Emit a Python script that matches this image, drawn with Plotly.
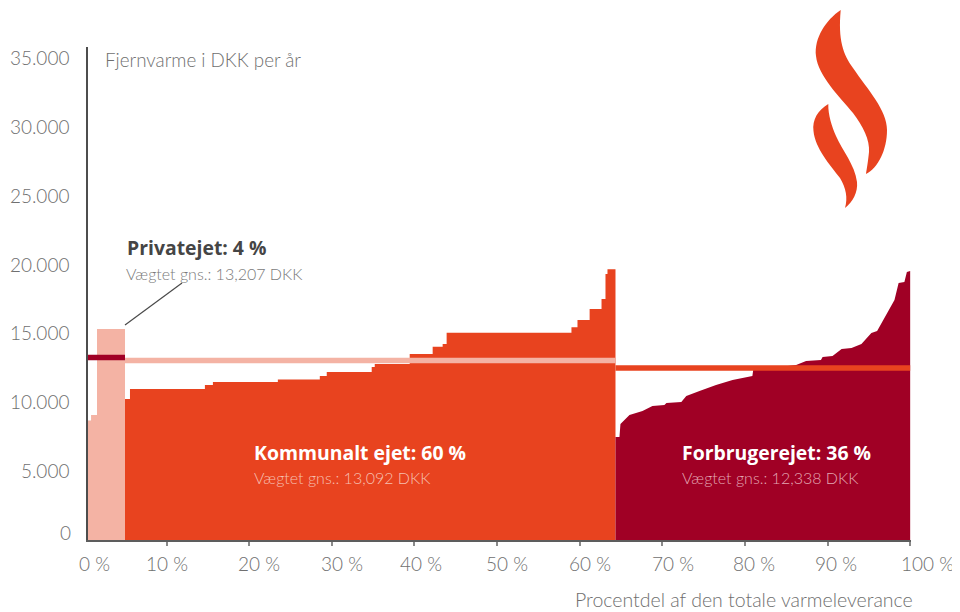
import plotly.graph_objects as go

# the page body keeps its 8 px margin, so the figure is 8 px smaller than the window
BODY_MARGIN = 8
WIDTH, HEIGHT = 960, 612
LEFT, RIGHT, TOP, BOTTOM = 88, 911, 47, 540

# andel af varmeleverance (%) / DKK per aar
private_x = [0.48, 0.85, 1.57, 4.96]
private_y = [8700, 9100, 15350, 15350]

municipal_x = [4.96, 5.56, 14.63, 15.6, 23.46, 28.54, 29.38, 34.82, 35.19, 39.42,
               42.2, 43.41, 43.89, 59.0, 59.73, 61.2, 62.64, 63.12, 63.36, 64.33]
municipal_y = [10250, 10980, 11270, 11490, 11670, 11930, 12220, 12580, 12800, 13530,
               14060, 14250, 15080, 15470, 16000, 16800, 17530, 19350, 19700, 19700]

consumer_x = [64.33, 64.81, 64.93, 66.02, 67.6, 68.8, 70.25, 70.5, 72.3, 72.9, 74.5, 76.5,
              78.5, 80.9, 81.0, 86.2, 87.4, 89.2, 89.4, 90.6, 91.7, 92.9, 94.1, 95.3,
              96.0, 97.1, 98.1, 98.6, 99.3, 99.6, 100.0]
consumer_y = [7490, 7490, 8440, 9090, 9380, 9750, 9820, 9960, 10040, 10470, 10840, 11270,
              11640, 11930, 12360, 12730, 13020, 13090, 13310, 13380, 13890, 13960, 14250, 15050,
              15200, 16360, 17450, 18690, 18760, 19490, 19560]

private_avg_x = [0.12, 4.96]
private_avg_y = [13280, 13280]
municipal_avg_x = [4.96, 64.33]
municipal_avg_y = [13050, 13050]
consumer_avg_x = [64.33, 100.0]
consumer_avg_y = [12510, 12510]

x_ticks = [0, 10, 20, 30, 40, 50, 60, 70, 80, 90, 100]
x_tick_labels = ['0 %', '10 %', '20 %', '30 %', '40 %', '50 %', '60 %', '70 %', '80 %', '90 %', '100 %']
y_ticks = [5000, 10000, 15000, 20000, 25000, 30000, 35000]
y_tick_labels = ['5.000', '10.000', '15.000', '20.000', '25.000', '30.000', '35.000']

LIGHT = '#F4B3A4'
ORANGE = '#E8431F'
DARK = '#A00025'
GREY = '#6f6f6f'
FONT = 'Lato Light, Lato, sans-serif'
BOLD = 'Open Sans, sans-serif'

# labels in the reference do not sit exactly on their ticks
x_label_shift = [6, 0, 10, 10, 7, 10, 10, 11, 9, 8, 17]


def px(x):
    return (x - LEFT) / (RIGHT - LEFT)


def py(y):
    return (BOTTOM - y) / (BOTTOM - TOP)


def paper_path(commands):
    parts = []
    for cmd, points in commands:
        coords = ' '.join(f'{px(x):.5f},{py(y):.5f}' for x, y in points)
        parts.append(f'{cmd}{coords}')
    return ' '.join(parts) + ' Z'


flame_large = [('M', [(840.7, 10)]),
               ('C', [(826, 20), (814, 38), (816, 56)]),
               ('C', [(818, 76), (840, 97), (853, 113)]),
               ('C', [(863, 126), (870, 140), (869, 152)]),
               ('C', [(868, 162), (867, 168), (866, 174)]),
               ('C', [(878, 168), (887, 150), (887, 130)]),
               ('C', [(887, 110), (868, 90), (853, 68)]),
               ('C', [(843, 54), (838, 40), (840.7, 10)])]
flame_small = [('M', [(828.3, 104)]),
               ('C', [(818, 110), (812, 120), (813.5, 131)]),
               ('C', [(815, 148), (830, 165), (840, 178)]),
               ('C', [(846, 188), (848, 198), (845, 208)]),
               ('C', [(853, 202), (858, 192), (857, 182)]),
               ('C', [(855, 165), (842, 150), (836, 136)]),
               ('C', [(832, 127), (828, 115), (828.3, 104)])]


def label(text, x, y, size, color, bold=False, anchor='left'):
    if bold:
        text = f'<b>{text}</b>'
    fig.add_annotation(text=text, x=px(x), y=py(y), xref='paper', yref='paper', showarrow=False,
                       xanchor=anchor, yanchor='middle',
                       font={'family': BOLD if bold else FONT, 'size': size, 'color': color})


fig = go.Figure()
fig.add_trace(go.Scatter(x=private_x, y=private_y, mode='lines', fill='tozeroy', fillcolor=LIGHT,
                         line={'shape': 'hv', 'width': 0}))
fig.add_trace(go.Scatter(x=municipal_x, y=municipal_y, mode='lines', fill='tozeroy', fillcolor=ORANGE,
                         line={'shape': 'hv', 'width': 0}))
fig.add_trace(go.Scatter(x=consumer_x, y=consumer_y, mode='lines', fill='tozeroy', fillcolor=DARK,
                         line={'width': 0}))
fig.add_trace(go.Scatter(x=private_avg_x, y=private_avg_y, mode='lines', cliponaxis=False,
                         line={'color': DARK, 'width': 5.5}))
fig.add_trace(go.Scatter(x=municipal_avg_x, y=municipal_avg_y, mode='lines',
                         line={'color': LIGHT, 'width': 5.5}))
fig.add_trace(go.Scatter(x=consumer_avg_x, y=consumer_avg_y, mode='lines',
                         line={'color': ORANGE, 'width': 5.5}))

fig.update_layout(width=WIDTH - BODY_MARGIN, height=HEIGHT - BODY_MARGIN, showlegend=False,
                  plot_bgcolor='white', paper_bgcolor='white',
                  margin={'l': LEFT - BODY_MARGIN, 'r': WIDTH - RIGHT, 't': TOP - BODY_MARGIN,
                          'b': HEIGHT - BOTTOM, 'pad': 0, 'autoexpand': False})
fig.update_xaxes(range=[0.48, 100.1], showgrid=False, zeroline=False, showline=True, linecolor='#5d5d5d',
                 linewidth=1.5, tickvals=x_ticks[1:], showticklabels=False, ticks='outside', ticklen=4,
                 tickwidth=1.5, tickcolor='#8a8a8a')
fig.update_yaxes(range=[0, 35855], showgrid=False, zeroline=False, showline=True, linecolor='#4d4d4d',
                 linewidth=1.5, tickvals=y_ticks, ticktext=y_tick_labels, ticks='', ticklabelstandoff=13,
                 tickfont={'family': FONT, 'size': 19, 'color': GREY})

for tick, text, shift in zip(x_ticks, x_tick_labels, x_label_shift):
    fig.add_annotation(text=text, x=max(tick, 0.48), y=0, xref='x', yref='y', showarrow=False, xshift=shift,
                       yshift=-23, xanchor='center', yanchor='middle',
                       font={'family': FONT, 'size': 19, 'color': GREY})
fig.add_annotation(text='0', x=0.48, y=0, xref='x', yref='y', showarrow=False, xshift=-15, yshift=8,
                   xanchor='right', yanchor='middle', font={'family': FONT, 'size': 19, 'color': GREY})

label('Fjernvarme i DKK per år', 103, 59, 18.8, GREY)
label('Privatejet: 4 %', 125, 248, 19.4, '#454545', bold=True)
label('Vægtet gns.: 13,207 DKK', 124, 273, 16, '#7a7a7a')
label('Kommunalt ejet: 60 %', 252, 452, 19.4, 'white', bold=True)
label('Vægtet gns.: 13,092 DKK', 252, 477, 16, '#F6BFAF')
label('Forbrugerejet: 36 %', 680, 452, 19.4, 'white', bold=True)
label('Vægtet gns.: 12,338 DKK', 680, 477, 16, '#E3A6B2')
label('Procentdel af den totale varmeleverance', 915, 599, 19.5, GREY, anchor='right')

fig.add_shape(type='line', xref='paper', yref='paper', x0=px(125), y0=py(325), x1=px(182), y1=py(283),
              line={'color': '#4a4a4a', 'width': 1.2})
for flame in (flame_large, flame_small):
    fig.add_shape(type='path', xref='paper', yref='paper', path=paper_path(flame), fillcolor=ORANGE,
                  line={'width': 0})

fig.write_html('out.html')
